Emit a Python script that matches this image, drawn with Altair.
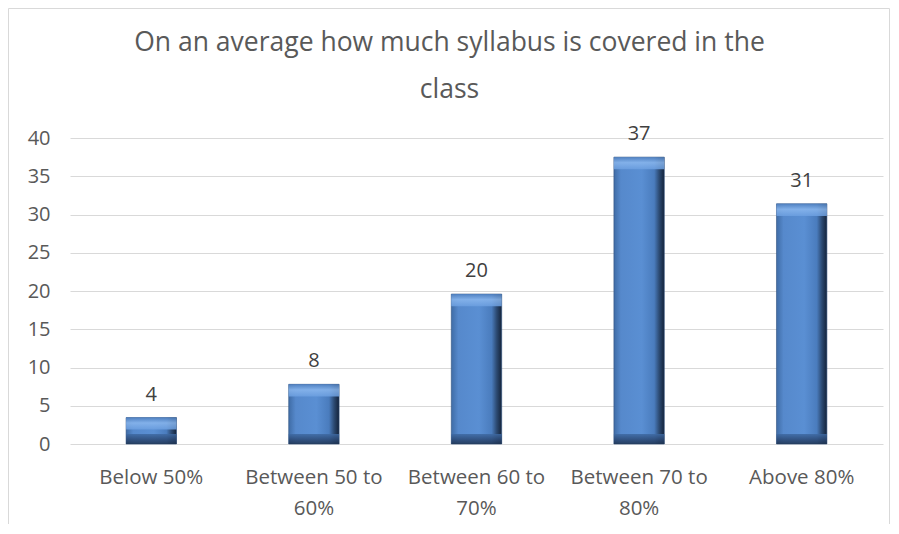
import altair as alt
import pandas as pd

categories = ["Below 50%", "Between 50 to 60%", "Between 60 to 70%", "Between 70 to 80%", "Above 80%"]
values = [3.45, 7.8, 19.6, 37.5, 31.4]
labels = ["4", "8", "20", "37", "31"]
y_ticks = [0, 5, 10, 15, 20, 25, 30, 35, 40]

df = pd.DataFrame({"cat": categories, "val": values, "lab": labels})

FONT = "Open Sans"
GREY = "#595959"
W, H = 813, 306
PAD_L, PAD_T, PAD_R, PAD_B = 62, 130, 8, 80
TOP_BEVEL = 1.6
BOT_BEVEL = 1.3

x_scale = alt.Scale(paddingInner=0.69, paddingOuter=0.345)
y_scale = alt.Scale(domain=[0, 40], nice=False)

x_axis = alt.Axis(labelAngle=0, ticks=False, domain=False, grid=False,
                  labelFont=FONT, labelFontSize=20.5, labelColor=GREY,
                  labelPadding=23, labelLineHeight=31, labelBaseline="top",
                  labelExpr="length(datum.label) > 12 ? [slice(datum.label, 0, 13), slice(datum.label, 14)] : datum.label")
y_axis = alt.Axis(values=y_ticks, ticks=False, domain=False, labelOverlap=False,
                  gridColor="#d9d9d9", gridWidth=1,
                  labelFont=FONT, labelFontSize=20, labelColor=GREY, labelPadding=20)

x_enc = alt.X("cat:N", sort=categories, title=None, scale=x_scale, axis=x_axis)


def y_of(field):
    return alt.Y(field, scale=y_scale, title=None, axis=y_axis)


base = alt.Chart(df)

body_grad = alt.LinearGradient(
    gradient="linear", x1=0, x2=1, y1=0, y2=0,
    stops=[alt.GradientStop(color="#3f6ca6", offset=0),
           alt.GradientStop(color="#5689cc", offset=0.14),
           alt.GradientStop(color="#5a8fd3", offset=0.55),
           alt.GradientStop(color="#4a7cbd", offset=0.8),
           alt.GradientStop(color="#2c4a72", offset=0.9),
           alt.GradientStop(color="#14233a", offset=1)])
top_grad = alt.LinearGradient(
    gradient="linear", x1=0, x2=0, y1=0, y2=1,
    stops=[alt.GradientStop(color="#4f80c0", offset=0),
           alt.GradientStop(color="#8ab7ee", offset=0.45),
           alt.GradientStop(color="#6c9fe0", offset=1)])
bot_grad = alt.LinearGradient(
    gradient="linear", x1=0, x2=0, y1=0, y2=1,
    stops=[alt.GradientStop(color="#3e69a2", offset=0),
           alt.GradientStop(color="#2a4670", offset=0.6),
           alt.GradientStop(color="#1e3350", offset=1)])

bars = base.mark_bar(color=body_grad, stroke="#2f5180", strokeWidth=0.6).encode(
    x=x_enc, y=y_of("val:Q"))

top_cap = base.transform_calculate(
    t2="max(datum.val - %f, datum.val * 0.55)" % TOP_BEVEL
).mark_bar(color=top_grad, opacity=0.85).encode(
    x=x_enc, y=y_of("val:Q"), y2="t2:Q")

bot_cap = base.transform_calculate(
    b2="min(%f, datum.val * 0.4)" % BOT_BEVEL, b0="0"
).mark_bar(color=bot_grad, opacity=0.85).encode(
    x=x_enc, y=y_of("b0:Q"), y2="b2:Q")

text = base.mark_text(font=FONT, fontSize=20, color="#404040", baseline="bottom", dy=-13).encode(
    x=x_enc, y=y_of("val:Q"), text="lab:N")

# chart border: left, top and right edges (bottom edge lies outside the view in the reference)
frame_df = pd.DataFrame({"k": [0]})
fr = alt.Chart(frame_df)
left_x = -PAD_L + 0.5
right_x = W + PAD_R - 1.5
top_y = -PAD_T + 0.5
bot_y = H + PAD_B
frame_left = fr.mark_rule(color="#d9d9d9", strokeWidth=1).encode(
    x=alt.value(left_x), y=alt.value(top_y), y2=alt.value(bot_y))
frame_right = fr.mark_rule(color="#d9d9d9", strokeWidth=1).encode(
    x=alt.value(right_x), y=alt.value(top_y), y2=alt.value(bot_y))
frame_top = fr.mark_rule(color="#d9d9d9", strokeWidth=1).encode(
    x=alt.value(left_x), x2=alt.value(right_x), y=alt.value(top_y))

chart = alt.layer(frame_left, frame_right, frame_top, bars, top_cap, bot_cap, text).properties(
    width=W, height=H,
    autosize=alt.AutoSizeParams(type="none"),
    padding={"left": PAD_L, "top": PAD_T, "right": PAD_R, "bottom": PAD_B},
    title=alt.TitleParams(
        text=["On an average how much syllabus is covered in the", "class"],
        font=FONT, fontSize=26.5, fontWeight="normal", color=GREY,
        lineHeight=47, anchor="middle", frame="group", dx=-27, offset=-95),
).configure(background="white").configure_view(stroke=None)

chart.save("out.html", embed_options={"renderer": "svg", "actions": False})
